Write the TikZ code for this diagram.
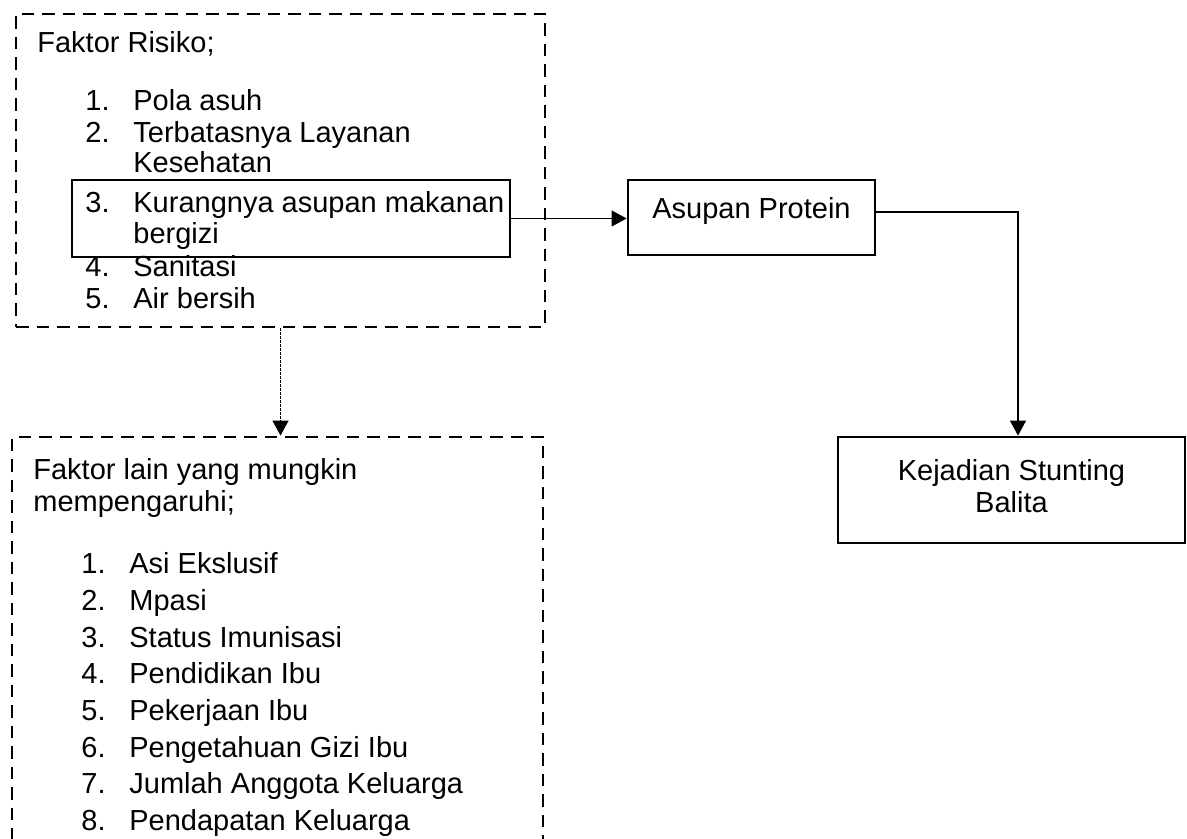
\documentclass[tikz,border=0pt]{standalone}
\usepackage{fontspec}
\setmainfont{Liberation Sans}
\usetikzlibrary{arrows.meta}
\newcommand\nomor[1]{\makebox[24pt][l]{#1}}
\tikzset{
  dashbox/.style={draw, line width=1.4pt, dash pattern=on 6.25pt off 4pt, inner sep=0pt},
  solidbox/.style={draw, line width=1.4pt, inner sep=0pt},
  txt/.style={anchor=base west, inner sep=0pt},
  arr/.style={line width=0.6pt, -{Triangle[length=7.5pt,width=8pt]}},
}
\begin{document}
\begin{tikzpicture}[x=0.5pt,y=-0.5pt,font=\fontsize{14.5pt}{16pt}\selectfont]
\useasboundingbox (0,0) rectangle (1187,839);
\clip (0,0) rectangle (1187,839);
% faktor risiko
\node[dashbox, minimum width=264.5pt, minimum height=156.5pt] (risiko) at (280.5,170.5) {};
\node[txt] (rjudul) at (37,53) {Faktor Risiko;};
\node[txt] (r1) at (85,111) {\nomor{1.}Pola asuh};
\node[txt] (r2) at (85,143) {\nomor{2.}Terbatasnya Layanan};
\node[txt] (r2b) at (133,173) {Kesehatan};
\node[txt] (r3) at (85,213) {\nomor{3.}Kurangnya asupan makanan};
\node[txt] (r3b) at (133,244) {bergizi};
\node[txt] (r4) at (85,277) {\nomor{4.}Sanitasi};
\node[txt] (r5) at (85,309) {\nomor{5.}Air bersih};
\node[solidbox, minimum width=219pt, minimum height=38.5pt] (kurang) at (291,218.5) {};
% faktor lain
\node[dashbox, minimum width=265.5pt, minimum height=216.5pt] (lain) at (277.5,653.5) {};
\node[txt] (ljudul) at (33,479) {Faktor lain yang mungkin};
\node[txt] (ljudulb) at (33,511) {mempengaruhi;};
\node[txt] (l1) at (81,573) {\nomor{1.}Asi Ekslusif};
\node[txt] (l2) at (81,610) {\nomor{2.}Mpasi};
\node[txt] (l3) at (81,647) {\nomor{3.}Status Imunisasi};
\node[txt] (l4) at (81,683) {\nomor{4.}Pendidikan Ibu};
\node[txt] (l5) at (81,720) {\nomor{5.}Pekerjaan Ibu};
\node[txt] (l6) at (81,757) {\nomor{6.}Pengetahuan Gizi Ibu};
\node[txt] (l7) at (81,793) {\nomor{7.}Jumlah Anggota Keluarga};
\node[txt] (l8) at (81,830) {\nomor{8.}Pendapatan Keluarga};
% protein dan stunting
\node[solidbox, minimum width=123.5pt, minimum height=37.5pt, text depth=10pt] (asupan) at (751.5,217.5) {Asupan Protein};
\node[solidbox, minimum width=173.5pt, minimum height=53pt] (kejadian) at (1011.5,490)
  {\raisebox{2.5pt}{\begin{tabular}{@{}c@{}}Kejadian Stunting\\Balita\end{tabular}}};
\draw[arr] (kurang.east) -- (kurang.east -| asupan.west);
\draw[arr] ([yshift=2.75pt]asupan.east) -| ([xshift=3.25pt]kejadian.north);
\draw[arr, dash pattern=on 1.2pt off 0.8pt] (risiko.south) -- (risiko.south |- lain.north);
\end{tikzpicture}
\end{document}
